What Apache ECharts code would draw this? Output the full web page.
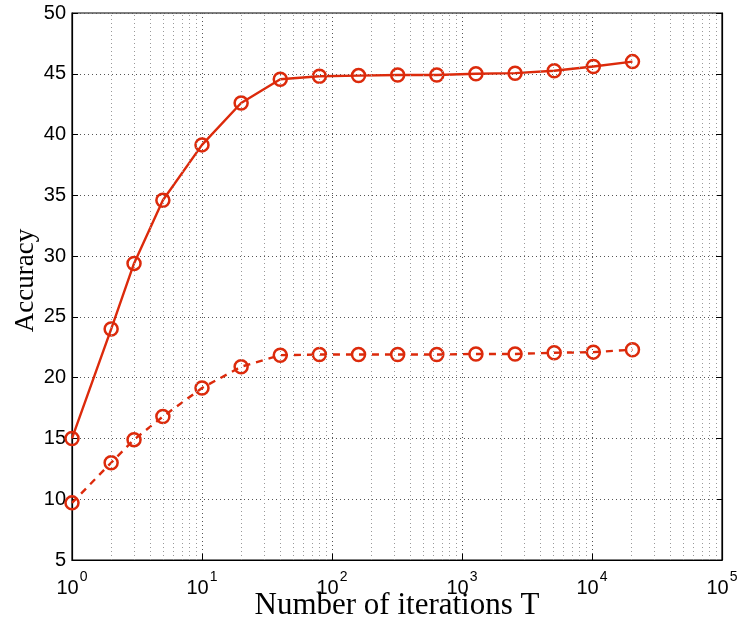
<!DOCTYPE html>
<html><head><meta charset="utf-8">
<script src="https://cdn.jsdelivr.net/npm/echarts@6/dist/echarts.min.js"></script>
<style>html,body{margin:0;padding:0;background:#fff}#c{width:741px;height:621px}</style>
</head><body><div id="c"></div>
<script>
const iterations = [1, 2, 3, 5, 10, 20, 40, 80, 160, 320, 640, 1280, 2560, 5120, 10240, 20480];
const solidAcc = [15.0, 24.0, 29.4, 34.6, 39.15, 42.6, 44.55, 44.8, 44.85, 44.9, 44.9, 45.0, 45.05, 45.25, 45.6, 46.0];
const dashedAcc = [9.7, 13.0, 14.9, 16.8, 19.15, 20.9, 21.85, 21.9, 21.9, 21.9, 21.9, 21.95, 21.95, 22.05, 22.1, 22.3];
const yTicks = [5, 10, 15, 20, 25, 30, 35, 40, 45, 50];
const xDecades = [1, 10, 100, 1000, 10000, 100000];

const minorVals = [];
for (let d = 0; d < xDecades.length - 1; d++) {
  for (let k = 2; k <= 9; k++) minorVals.push(xDecades[d] * k);
}
const color = '#dc2a0b';
const gridDot = {color: '#555', type: [1, 3], width: 1};

const chart = echarts.init(document.getElementById('c'));
chart.setOption({
  animation: false,
  grid: {left: 72, right: 19, top: 13, bottom: 61, show: true, borderColor: '#000', borderWidth: 1.2,
    containLabel: false, outerBoundsMode: 'none'},
  xAxis: {
    type: 'log', logBase: 10, min: 1, max: 100000,
    name: 'Number of iterations T', nameLocation: 'middle', nameGap: 30, nameMoveOverlap: false,
    nameTextStyle: {fontFamily: 'Liberation Serif', fontSize: 31, color: '#000'},
    axisLine: {lineStyle: {color: '#000', width: 1.2}},
    axisTick: {inside: true, length: 6, lineStyle: {color: '#000'}},
    splitLine: {show: true, lineStyle: gridDot},
    axisLabel: {
      margin: 10,
      formatter: v => '{b|10}{s|' + Math.round(Math.log10(v)) + '}',
      rich: {
        b: {fontFamily: 'Liberation Sans', fontSize: 20, color: '#000', padding: [8, 0, 0, 0]},
        s: {fontFamily: 'Liberation Sans', fontSize: 14, color: '#000', verticalAlign: 'top', padding: [0, 0, 10, 1]}
      }
    }
  },
  yAxis: [{
    type: 'value', min: 5, max: 50, interval: 5,
    name: 'Accuracy', nameLocation: 'middle', nameGap: 33, nameMoveOverlap: false,
    nameTextStyle: {fontFamily: 'Liberation Serif', fontSize: 27, color: '#000', padding: [0, 0, 0, 12]},
    axisLine: {show: true, lineStyle: {color: '#000', width: 1.2}},
    axisTick: {inside: true, length: 6, lineStyle: {color: '#000'}},
    splitLine: {show: true, lineStyle: gridDot},
    axisLabel: {fontFamily: 'Liberation Sans', fontSize: 20, color: '#000', margin: 6,
      formatter: v => yTicks.includes(v) ? String(v) : ''}
  }, {
    type: 'value', min: 5, max: 50, interval: 5, position: 'right',
    axisLine: {show: true, lineStyle: {color: '#000', width: 1.2}},
    axisTick: {inside: true, length: 6, lineStyle: {color: '#000'}},
    axisLabel: {show: false}, splitLine: {show: false}
  }],
  series: [{
    type: 'line', data: iterations.map((x, i) => [x, solidAcc[i]]),
    symbol: 'circle', symbolSize: 13,
    lineStyle: {color: color, width: 2.4},
    itemStyle: {color: 'rgba(0,0,0,0)', borderColor: color, borderWidth: 2.5},
    markLine: {
      silent: true, symbol: 'none', label: {show: false},
      lineStyle: {color: '#999', type: [1, 3], width: 1},
      data: minorVals.map(v => ({xAxis: v}))
    },
    z: 3
  }, {
    type: 'line', data: iterations.map((x, i) => [x, dashedAcc[i]]),
    symbol: 'circle', symbolSize: 13,
    lineStyle: {color: color, width: 2.4, type: [7, 6]},
    itemStyle: {color: 'rgba(0,0,0,0)', borderColor: color, borderWidth: 2.5},
    z: 3
  }]
});
</script></body></html>
